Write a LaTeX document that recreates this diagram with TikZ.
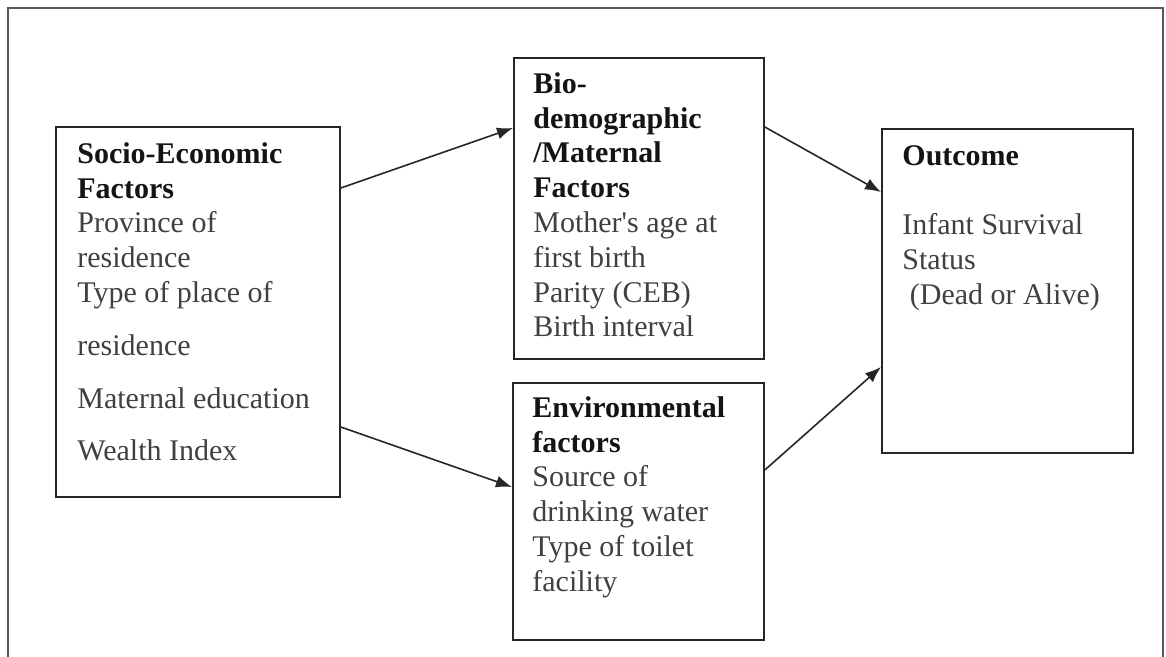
\documentclass[tikz,border=0pt]{standalone}
\usepackage{fontspec}
\setmainfont{Liberation Serif}
\usetikzlibrary{arrows.meta,calc}
\tikzset{
  box/.style={draw=black!85, line width=0.9pt, inner sep=0pt, anchor=north west},
  txt/.style={anchor=north west, align=left, inner sep=0pt, text=black!75,
              font=\fontsize{15}{17.4}\selectfont},
  arr/.style={-{Latex[length=8pt,width=6pt]}, line width=0.8pt, draw=black!85},
  frame/.style={draw=black!65, line width=0.8pt}
}
\newcommand{\hd}[1]{\textcolor{black!92}{\textbf{#1}}}
\begin{document}
\begin{tikzpicture}[x=0.5pt,y=-0.5pt]
\useasboundingbox (0,0) rectangle (1166,657);
\draw[frame] (8,690) -- (8,8) -- (1163,8) -- (1163,690);

\node[box, minimum width=142pt, minimum height=185pt] (se) at (55,126) {};
\node[box, minimum width=125pt, minimum height=150.5pt] (bio) at (513,57) {};
\node[box, minimum width=125.5pt, minimum height=128.5pt] (env) at (512,382) {};
\node[box, minimum width=125.5pt, minimum height=162pt] (out) at (881,128) {};

\node[txt] (setxt) at (77,142) {\hd{Socio-Economic}\\\hd{Factors}\\Province of\\residence\\Type of place of\\[9pt]residence\\[9pt]Maternal education\\[9pt]Wealth Index};
\node[txt] (biotxt) at (533,72) {\hd{Bio-}\\\hd{demographic}\\\hd{/Maternal}\\\hd{Factors}\\Mother\textquotesingle s age at\\first birth\\Parity (CEB)\\Birth interval};
\node[txt] (envtxt) at (532,396) {\hd{Environmental}\\\hd{factors}\\Source of\\drinking water\\Type of toilet\\facility};
\node[txt] (outtxt) at (902,145) {\hd{Outcome}\\[17.4pt]Infant Survival\\Status\\\ (Dead or Alive)};

\draw[arr] ($(se.north east)+(0,62)$) -- ($(bio.north west)+(0,71)$);
\draw[arr] ($(se.north east)+(0,301)$) -- ($(env.north west)+(0,105)$);
\draw[arr] ($(bio.north east)+(0,70)$) -- ($(out.north west)+(0,64)$);
\draw[arr] ($(env.north east)+(0,88)$) -- ($(out.north west)+(0,239)$);
\end{tikzpicture}
\end{document}
